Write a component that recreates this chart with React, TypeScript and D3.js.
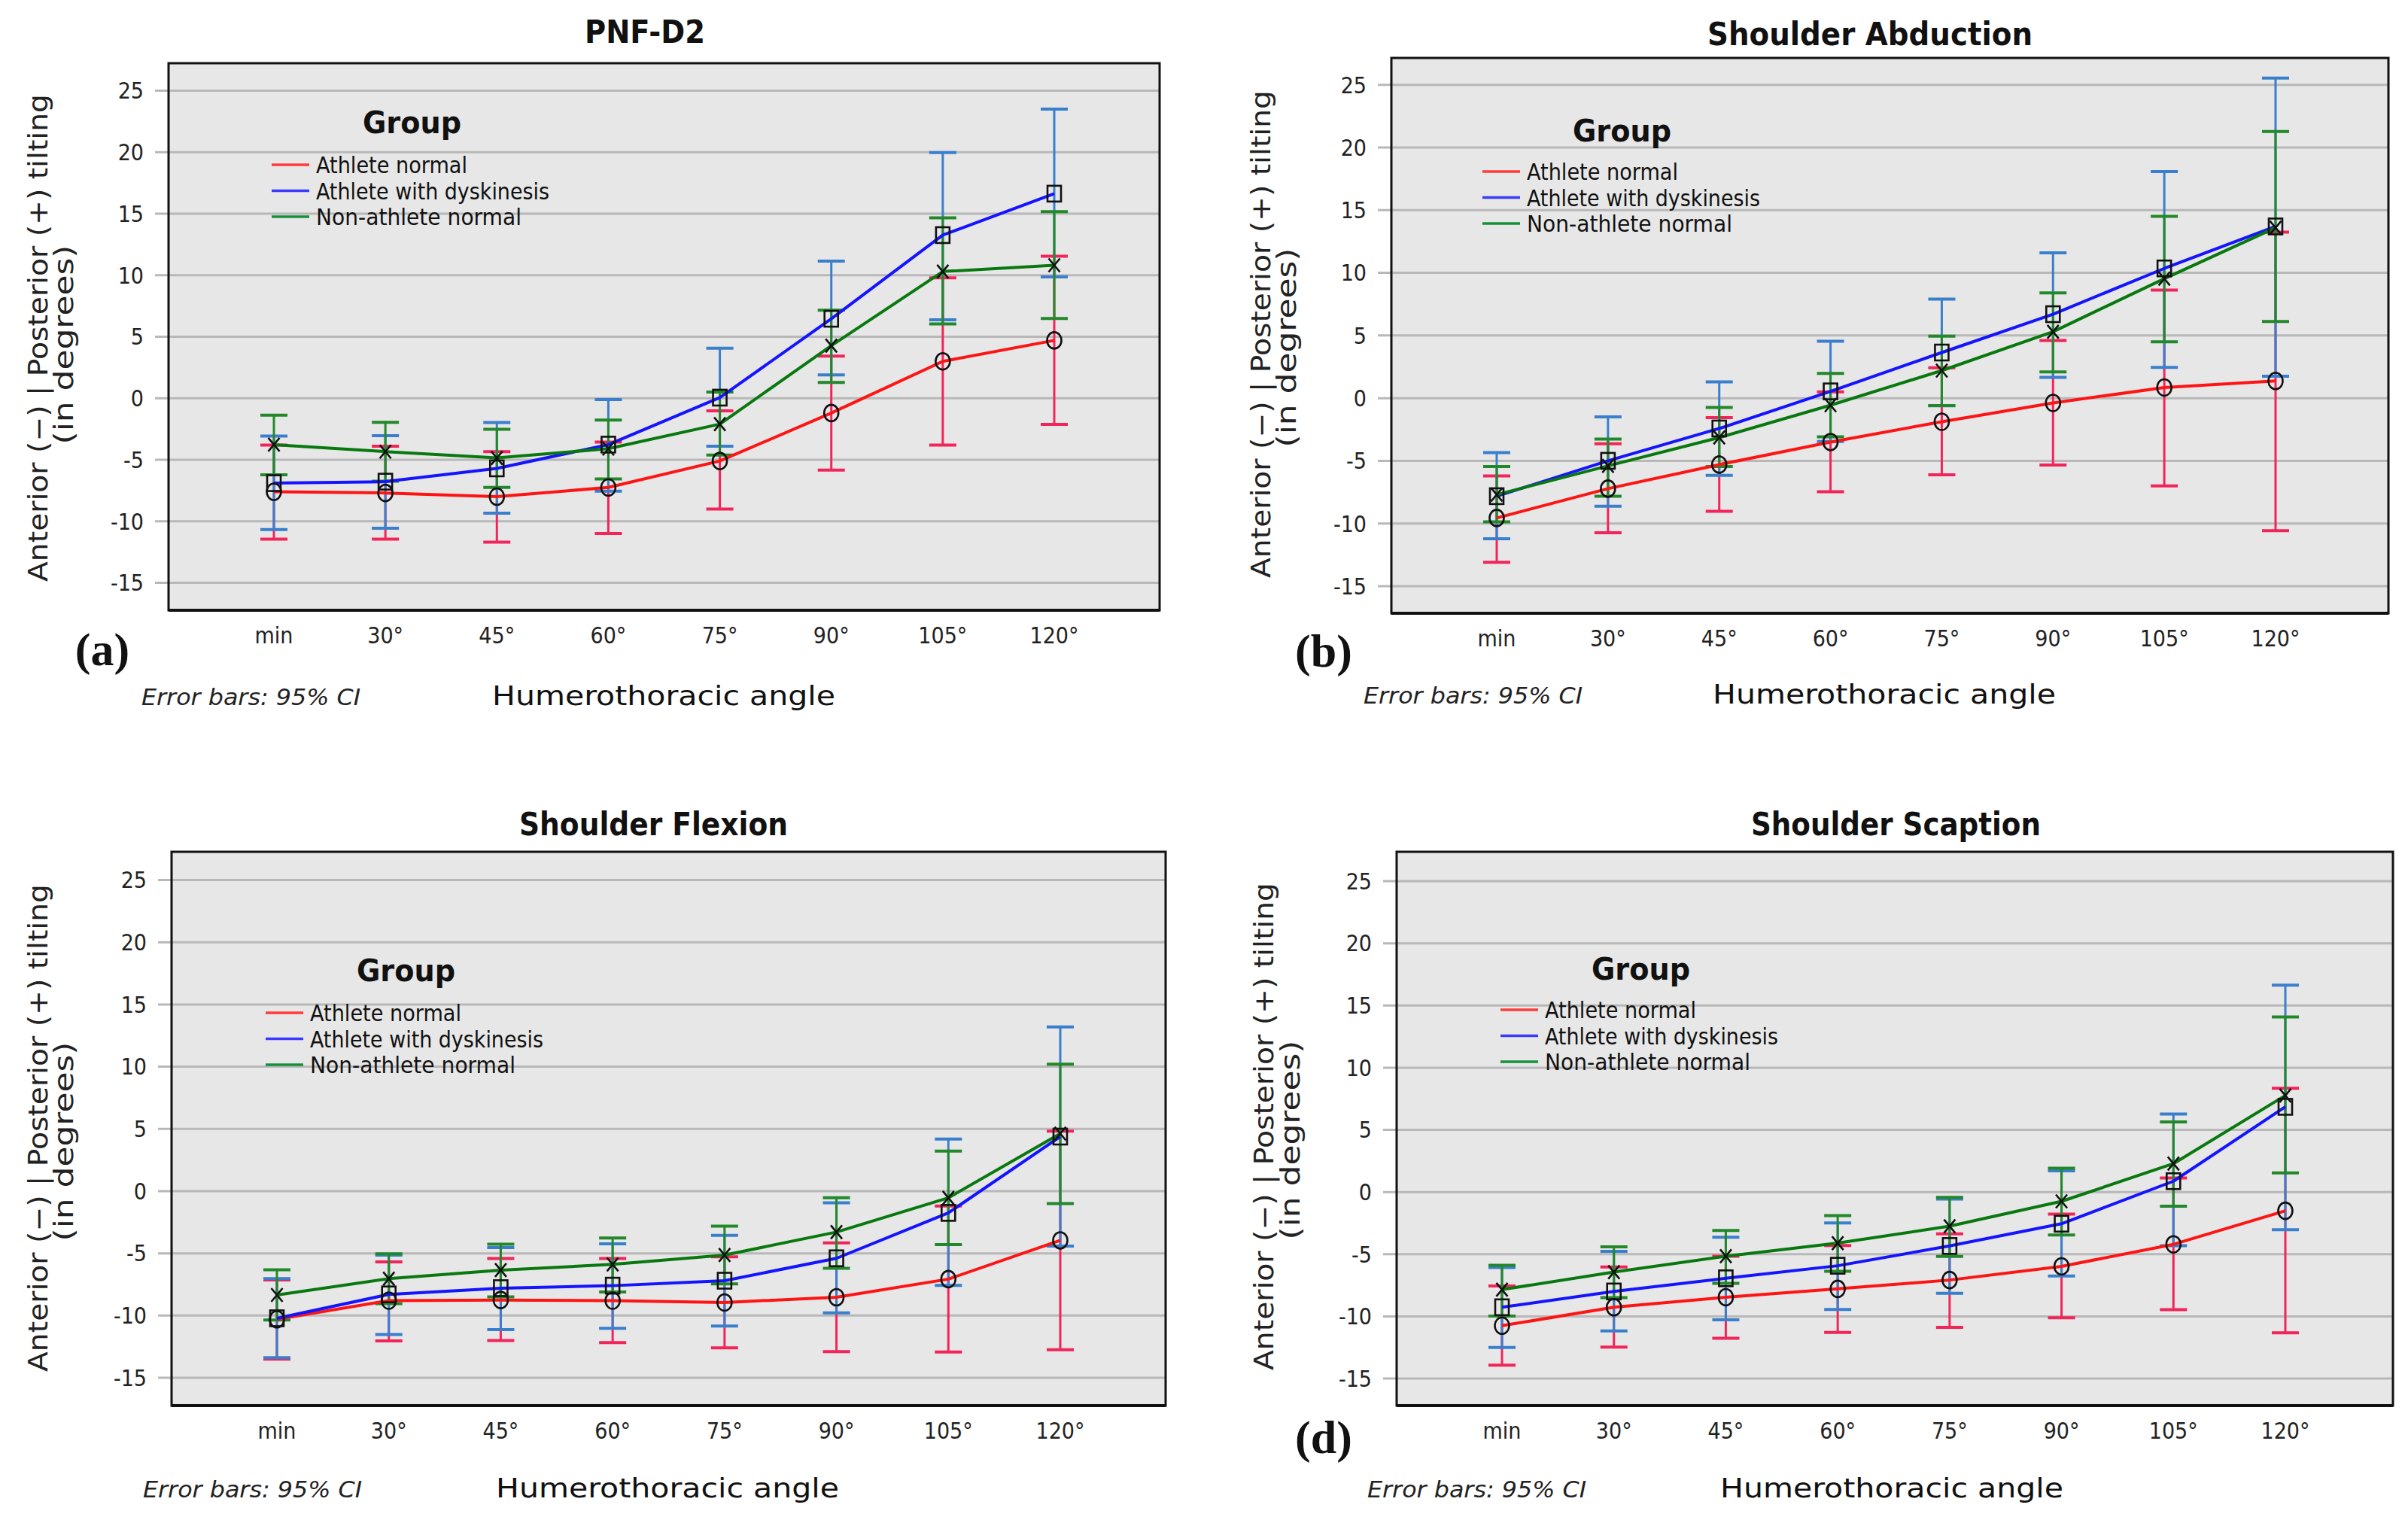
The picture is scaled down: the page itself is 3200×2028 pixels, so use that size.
import React from "react";
import * as d3 from "d3";

// ---------- categories / labels ----------
const categories = ["min", "30°", "45°", "60°", "75°", "90°", "105°", "120°"];
const groupNames = ["Athlete normal", "Athlete with dyskinesis", "Non-athlete normal"];
const panelTitles = ["PNF-D2", "Shoulder Abduction", "Shoulder Flexion", "Shoulder Scaption"];
const panelLetters = ["(a)", "(b)", "", "(d)"];
const yTicks = [-15, -10, -5, 0, 5, 10, 15, 20, 25];

// ---------- PNF-D2 ----------
const pnfNormalMean = [-7.6, -7.7, -8.0, -7.25, -5.1, -1.2, 3.0, 4.7];
const pnfNormalLow = [-11.45, -11.45, -11.7, -11.0, -9.0, -5.84, -3.8, -2.13];
const pnfNormalHigh = [-3.8, -3.9, -4.34, -3.56, -1.03, 3.43, 9.78, 11.54];
const pnfDyskMean = [-6.9, -6.78, -5.7, -3.77, 0.05, 6.46, 13.26, 16.63];
const pnfDyskLow = [-10.67, -10.57, -9.35, -7.56, -3.9, 1.9, 6.38, 9.86];
const pnfDyskHigh = [-3.08, -3.05, -1.98, -0.1, 4.07, 11.15, 19.97, 23.5];
const pnfNonMean = [-3.77, -4.34, -4.85, -4.1, -2.1, 4.27, 10.3, 10.81];
const pnfNonLow = [-6.23, -6.75, -7.25, -6.56, -4.62, 1.29, 6.04, 6.49];
const pnfNonHigh = [-1.38, -1.96, -2.53, -1.77, 0.5, 7.16, 14.66, 15.17];

// ---------- Shoulder Abduction ----------
const abdNormalMean = [-9.56, -7.22, -5.3, -3.5, -1.88, -0.38, 0.85, 1.37];
const abdNormalLow = [-13.1, -10.74, -9.02, -7.46, -6.12, -5.34, -7.0, -10.58];
const abdNormalHigh = [-6.2, -3.64, -1.56, 0.5, 2.42, 4.6, 8.63, 13.24];
const abdDyskMean = [-7.82, -5.0, -2.42, 0.54, 3.64, 6.7, 10.35, 13.7];
const abdDyskLow = [-11.22, -8.62, -6.16, -3.46, -0.6, 1.66, 2.45, 1.75];
const abdDyskHigh = [-4.34, -1.5, 1.3, 4.54, 7.9, 11.6, 18.08, 25.54];
const abdNonMean = [-7.7, -5.4, -3.14, -0.56, 2.2, 5.3, 9.53, 13.6];
const abdNonLow = [-9.86, -7.82, -5.46, -3.08, -0.59, 2.1, 4.5, 6.12];
const abdNonHigh = [-5.46, -3.26, -0.74, 1.98, 4.95, 8.4, 14.5, 21.28];

// ---------- Shoulder Flexion ----------
const flxNormalMean = [-10.3, -8.8, -8.75, -8.8, -8.95, -8.53, -7.07, -3.96];
const flxNormalLow = [-13.5, -12.04, -12.0, -12.18, -12.6, -12.9, -12.93, -12.75];
const flxNormalHigh = [-7.14, -5.69, -5.42, -5.42, -5.28, -4.16, -1.2, 4.82];
const flxDyskMean = [-10.22, -8.3, -7.8, -7.6, -7.2, -5.4, -1.75, 4.38];
const flxDyskLow = [-13.39, -11.53, -11.13, -11.03, -10.85, -9.78, -7.57, -4.42];
const flxDyskHigh = [-7.04, -5.14, -4.54, -4.23, -3.55, -0.94, 4.18, 13.2];
const flxNonMean = [-8.35, -7.04, -6.35, -5.89, -5.14, -3.29, -0.54, 4.62];
const flxNonLow = [-10.36, -9.05, -8.5, -8.1, -7.46, -6.2, -4.3, -1.0];
const flxNonHigh = [-6.33, -5.04, -4.27, -3.77, -2.82, -0.54, 3.21, 10.2];

// ---------- Shoulder Scaption ----------
const scpNormalMean = [-10.75, -9.27, -8.46, -7.79, -7.08, -5.98, -4.21, -1.51];
const scpNormalLow = [-13.93, -12.47, -11.76, -11.3, -10.89, -10.12, -9.46, -11.33];
const scpNormalHigh = [-7.55, -6.03, -5.16, -4.31, -3.36, -1.78, 1.12, 8.34];
const scpDyskMean = [-9.27, -8.0, -6.94, -5.93, -4.34, -2.55, 0.87, 6.85];
const scpDyskLow = [-12.51, -11.17, -10.28, -9.45, -8.14, -6.75, -4.32, -3.03];
const scpDyskHigh = [-6.07, -4.78, -3.64, -2.49, -0.57, 1.7, 6.27, 16.64];
const scpNonMean = [-7.85, -6.44, -5.16, -4.11, -2.75, -0.75, 2.28, 7.76];
const scpNonLow = [-9.98, -8.5, -7.35, -6.38, -5.18, -3.46, -1.14, 1.54];
const scpNonHigh = [-5.89, -4.41, -3.1, -1.9, -0.43, 1.91, 5.64, 14.07];

type Series = { mean: number[]; low: number[]; high: number[] };

const panelSeries: Series[][] = [
  [
    { mean: pnfNormalMean, low: pnfNormalLow, high: pnfNormalHigh },
    { mean: pnfDyskMean, low: pnfDyskLow, high: pnfDyskHigh },
    { mean: pnfNonMean, low: pnfNonLow, high: pnfNonHigh },
  ],
  [
    { mean: abdNormalMean, low: abdNormalLow, high: abdNormalHigh },
    { mean: abdDyskMean, low: abdDyskLow, high: abdDyskHigh },
    { mean: abdNonMean, low: abdNonLow, high: abdNonHigh },
  ],
  [
    { mean: flxNormalMean, low: flxNormalLow, high: flxNormalHigh },
    { mean: flxDyskMean, low: flxDyskLow, high: flxDyskHigh },
    { mean: flxNonMean, low: flxNonLow, high: flxNonHigh },
  ],
  [
    { mean: scpNormalMean, low: scpNormalLow, high: scpNormalHigh },
    { mean: scpDyskMean, low: scpDyskLow, high: scpDyskHigh },
    { mean: scpNonMean, low: scpNonLow, high: scpNonHigh },
  ],
];

// ---------- styling ----------
const lineColors = ["#ff1414", "#1414ff", "#08780f"];
const errColors = ["#f2245a", "#3a7fcc", "#23882a"];
const legendColors = ["#ff3b3b", "#3b3bff", "#14913a"];
const legendWidths = [201, 310, 273];
const condensed = "'DejaVu Sans Condensed', 'Liberation Sans Narrow', 'DejaVu Sans', sans-serif";
const wide = "'DejaVu Sans', Verdana, sans-serif";

// ---------- layout (pixel geometry of each panel) ----------
type Layout = {
  L: number; T: number; R: number; B: number;
  yHi: number; yLo: number; xFirst: number; xLast: number;
  titleX: number; titleY: number; titleW: number;
  groupX: number; groupY: number; legX: number; legY: number;
  yl1X: number; yl1C: number; yl2X: number; yl2C: number;
  letterX: number; letterY: number;
  footY: number; errX: number; humX: number;
};

const layouts: Layout[] = [
  { L: 224, T: 84, R: 1541, B: 811, yHi: 120.5, yLo: 774.5, xFirst: 364, xLast: 1401,
    titleX: 777, titleY: 57, titleW: 160, groupX: 482, groupY: 177, legX: 361, legY: 219,
    yl1X: 63, yl1C: 449, yl2X: 97, yl2C: 458, letterX: 136, letterY: 884,
    footY: 937, errX: 188, humX: 654 },
  { L: 1849, T: 77, R: 3174, B: 815, yHi: 112.7, yLo: 779, xFirst: 1989, xLast: 3024,
    titleX: 2269, titleY: 60, titleW: 432, groupX: 2090, groupY: 188, legX: 1970, legY: 228,
    yl1X: 1688, yl1C: 444, yl2X: 1722, yl2C: 462, letterX: 1759, letterY: 886,
    footY: 935, errX: 1812, humX: 2276 },
  { L: 228, T: 1132, R: 1549, B: 1868, yHi: 1169.5, yLo: 1831, xFirst: 368, xLast: 1409,
    titleX: 690, titleY: 1110, titleW: 357, groupX: 474, groupY: 1304, legX: 353, legY: 1346,
    yl1X: 63, yl1C: 1499, yl2X: 97, yl2C: 1517, letterX: 136, letterY: 1931,
    footY: 1990, errX: 190, humX: 659 },
  { L: 1856, T: 1132, R: 3180, B: 1868, yHi: 1171, yLo: 1832, xFirst: 1996, xLast: 3037,
    titleX: 2327, titleY: 1110, titleW: 385, groupX: 2115, groupY: 1302, legX: 1994, legY: 1342,
    yl1X: 1692, yl1C: 1497, yl2X: 1727, yl2C: 1515, letterX: 1759, letterY: 1931,
    footY: 1990, errX: 1817, humX: 2286 },
];

function Marker({ kind, cx, cy }: { kind: number; cx: number; cy: number }) {
  const s = { fill: "none", stroke: "#111", strokeWidth: 2.6 };
  if (kind === 0) return <ellipse cx={cx} cy={cy} rx={9.5} ry={11} {...s} />;
  if (kind === 1) return <rect x={cx - 9} y={cy - 10.5} width={18} height={21} {...s} />;
  const a = 7.5;
  const b = 9;
  return (
    <g {...s}>
      <line x1={cx - a} y1={cy - b} x2={cx + a} y2={cy + b} />
      <line x1={cx - a} y1={cy + b} x2={cx + a} y2={cy - b} />
    </g>
  );
}

function Panel({ idx }: { idx: number }) {
  const lay = layouts[idx];
  const series = panelSeries[idx];
  const x = d3.scalePoint<string>().domain(categories).range([lay.xFirst, lay.xLast]);
  const y = d3.scaleLinear().domain([-15, 25]).range([lay.yLo, lay.yHi]);
  const line = d3
    .line<number>()
    .x((_, i) => x(categories[i]) as number)
    .y((d) => y(d));
  const cap = 18;

  return (
    <g>
      {/* plot background */}
      <rect x={lay.L} y={lay.T} width={lay.R - lay.L} height={lay.B - lay.T} fill="#e7e7e7" />
      {/* gridlines + y ticks */}
      {yTicks.map((t) => (
        <g key={t}>
          <line x1={lay.L - 18} x2={lay.R} y1={y(t)} y2={y(t)} stroke="#b8b8b8" strokeWidth={3} />
          <text
            x={lay.L - 33}
            y={y(t)}
            dy="0.36em"
            textAnchor="end"
            fontFamily={condensed}
            fontStretch="condensed"
            fontSize={30}
            fill="#222"
          >
            {t}
          </text>
        </g>
      ))}
      {/* frame */}
      <rect
        x={lay.L}
        y={lay.T}
        width={lay.R - lay.L}
        height={lay.B - lay.T}
        fill="none"
        stroke="#111"
        strokeWidth={3}
      />
      <line x1={lay.L} x2={lay.R} y1={lay.B} y2={lay.B} stroke="#111" strokeWidth={4} />

      {/* error bars: red, blue, green */}
      {series.map((s, g) => (
        <g key={"e" + g} stroke={errColors[g]} strokeWidth={3} fill="none">
          {categories.map((c, i) => {
            const cx = x(c) as number;
            return (
              <g key={c}>
                <line x1={cx} x2={cx} y1={y(s.low[i])} y2={y(s.high[i])} />
                <line x1={cx - cap} x2={cx + cap} y1={y(s.low[i])} y2={y(s.low[i])} strokeWidth={4} />
                <line x1={cx - cap} x2={cx + cap} y1={y(s.high[i])} y2={y(s.high[i])} strokeWidth={4} />
              </g>
            );
          })}
        </g>
      ))}
      {/* mean lines */}
      {series.map((s, g) => (
        <path
          key={"l" + g}
          d={line(s.mean) || ""}
          fill="none"
          stroke={lineColors[g]}
          strokeWidth={4}
          strokeLinejoin="round"
        />
      ))}
      {/* markers */}
      {series.map((s, g) => (
        <g key={"m" + g}>
          {categories.map((c, i) => (
            <Marker key={c} kind={g} cx={x(c) as number} cy={y(s.mean[i])} />
          ))}
        </g>
      ))}

      {/* x tick labels */}
      {categories.map((c) => (
        <text
          key={c}
          x={x(c) as number}
          y={lay.B + 44}
          textAnchor="middle"
          fontFamily={condensed}
          fontStretch="condensed"
          fontSize={30}
          fill="#222"
        >
          {c}
        </text>
      ))}

      {/* legend */}
      <text
        x={lay.groupX}
        y={lay.groupY}
        fontFamily={condensed}
        fontStretch="condensed"
        fontWeight="bold"
        fontSize={41}
        textLength={131}
        lengthAdjust="spacingAndGlyphs"
        fill="#111"
      >
        Group
      </text>
      {groupNames.map((n, g) => {
        const ly = lay.legY + g * 34.5;
        return (
          <g key={n}>
            <line x1={lay.legX} x2={lay.legX + 50} y1={ly} y2={ly} stroke={legendColors[g]} strokeWidth={3.5} />
            <text
              x={lay.legX + 59}
              y={ly + 11}
              fontFamily={condensed}
              fontStretch="condensed"
              fontSize={31}
              textLength={legendWidths[g]}
              lengthAdjust="spacingAndGlyphs"
              fill="#111"
            >
              {n}
            </text>
          </g>
        );
      })}

      {/* title */}
      <text
        x={lay.titleX}
        y={lay.titleY}
        fontFamily={condensed}
        fontStretch="condensed"
        fontWeight="bold"
        fontSize={43}
        textLength={lay.titleW}
        lengthAdjust="spacingAndGlyphs"
        fill="#111"
      >
        {panelTitles[idx]}
      </text>

      {/* y axis label */}
      <text
        transform={`translate(${lay.yl1X},${lay.yl1C}) rotate(-90)`}
        textAnchor="middle"
        fontFamily={wide}
        fontSize={35}
        textLength={648}
        lengthAdjust="spacingAndGlyphs"
        fill="#222"
      >
        Anterior (−) | Posterior (+) tilting
      </text>
      <text
        transform={`translate(${lay.yl2X},${lay.yl2C}) rotate(-90)`}
        textAnchor="middle"
        fontFamily={wide}
        fontSize={35}
        textLength={265}
        lengthAdjust="spacingAndGlyphs"
        fill="#222"
      >
        (in degrees)
      </text>

      {/* footer */}
      <text
        x={lay.errX}
        y={lay.footY}
        fontFamily={condensed}
        fontStretch="condensed"
        fontStyle="italic"
        fontSize={31}
        textLength={291}
        lengthAdjust="spacingAndGlyphs"
        fill="#222"
      >
        Error bars: 95% CI
      </text>
      <text
        x={lay.humX}
        y={lay.footY}
        fontFamily={condensed}
        fontStretch="condensed"
        fontSize={36}
        textLength={456}
        lengthAdjust="spacingAndGlyphs"
        fill="#111"
      >
        Humerothoracic angle
      </text>

      {panelLetters[idx] && (
        <text
          x={lay.letterX}
          y={lay.letterY}
          textAnchor="middle"
          fontFamily="'Liberation Serif', 'DejaVu Serif', serif"
          fontWeight="bold"
          fontSize={62}
          fill="#111"
        >
          {panelLetters[idx]}
        </text>
      )}
    </g>
  );
}

export default function App() {
  return (
    <svg
      width={3200}
      height={2028}
      viewBox="0 0 3200 2028"
      style={{ position: "absolute", left: 0, top: 0, display: "block", background: "#fff" }}
    >
      <rect x={0} y={0} width={3200} height={2028} fill="#fff" />
      {[0, 1, 2, 3].map((i) => (
        <Panel key={i} idx={i} />
      ))}
    </svg>
  );
}
